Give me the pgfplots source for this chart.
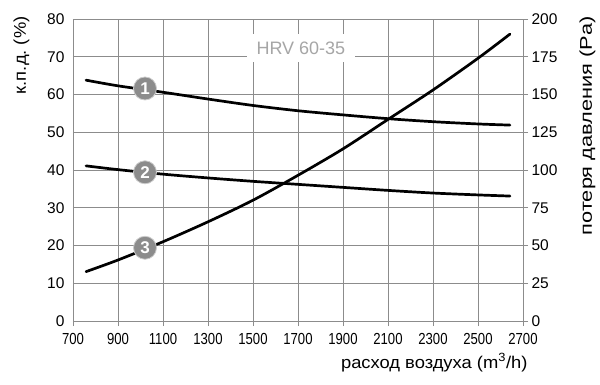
\documentclass[border=0pt]{standalone}
\usepackage{pgfplots}
\pgfplotsset{compat=1.18}
\usepackage{fontspec}
\setmainfont{Liberation Sans}
\newfontfamily\condfont[FakeStretch=0.82]{Liberation Sans}
\newfontfamily\widefont[FakeStretch=1.28]{Liberation Sans}
\newfontfamily\midfont[FakeStretch=1.08]{Liberation Sans}
\definecolor{gridc}{gray}{0.55}
\definecolor{badge}{gray}{0.55}
\definecolor{titlec}{gray}{0.65}
\begin{document}
\frenchspacing
\begin{tikzpicture}
\useasboundingbox (-73pt,-63pt) rectangle (527pt,321pt);
\pgfplotsset{
  common/.style={
    scale only axis, width=450pt, height=302pt,
    at={(0pt,0pt)}, anchor=south west,
    xmin=700, xmax=2700,
    /pgf/number format/assume math mode=true,
    /pgf/number format/1000 sep={},
    yticklabel style={font=\fontsize{15.5}{17}\selectfont},
    xticklabel style={font=\condfont\fontsize{16}{18}\selectfont, yshift=-4pt},
    axis line style={gridc, line width=0.8pt},
    tick align=outside, major tick length=5pt,
    tick style={gridc, line width=0.8pt},
  }
}
\begin{axis}[common,
  ymin=0, ymax=80, ytick={0,10,...,80},
  xtick={700,900,...,2700},
  xtick pos=left, ytick pos=left,
  ytick style={draw=none},
  grid=major, major grid style={gridc, line width=0.8pt},
  xlabel={расход воздуха (m\textsuperscript{3}/h)},
  xlabel style={font=\midfont\fontsize{17}{20}\selectfont, at={(axis description cs:1,0)}, anchor=north east, xshift=8pt, yshift=-29pt},
  ylabel={к.п.д. (\%)},
  ylabel style={font=\midfont\fontsize{17}{20}\selectfont, at={(axis description cs:-0.089,1.02)}, anchor=south east},
]
\node[fill=white, text=titlec, font=\fontsize{18}{20}\selectfont, minimum width=108pt, minimum height=28pt, inner sep=0pt] at (axis cs:1713,72.3) {HRV 60-35};
\addplot[black, line width=2.7pt, line cap=round, smooth] coordinates {
(758,63.8)(900,62.3)(1100,60.6)(1300,58.8)(1500,57.1)(1700,55.7)(1900,54.6)(2100,53.6)(2300,52.8)(2500,52.2)(2642,51.9)};
\addplot[black, line width=2.7pt, line cap=round, smooth] coordinates {
(758,41.1)(900,40.1)(1100,38.9)(1300,37.9)(1500,37.0)(1700,36.2)(1900,35.4)(2100,34.6)(2300,33.9)(2500,33.4)(2642,33.1)};
\addplot[only marks, mark=*, mark size=11.5pt, mark options={fill=badge, draw=gray!40, line width=0.8pt},
  nodes near coords, point meta=explicit symbolic, nodes near coords align={center},
  every node near coord/.append style={text=white, font=\bfseries\fontsize{17}{17}\selectfont, anchor=center}]
  coordinates {(1020,61.6)[1] (1020,39.4)[2]};
\end{axis}
\begin{axis}[common,
  ymin=0, ymax=200, ytick={0,25,...,200},
  axis y line*=right, axis x line=none,
  ylabel={потеря давления (Pa)},
  ylabel style={font=\widefont\fontsize{17}{20}\selectfont, at={(axis description cs:1.118,1.02)}, anchor=north east},
]
\addplot[black, line width=2.7pt, line cap=round, smooth] coordinates {
(758,32.7)(900,40.4)(1100,52.5)(1300,65.7)(1500,80)(1700,96.5)(1900,114)(2100,133.5)(2300,153)(2500,174)(2642,190)};
\addplot[only marks, mark=*, mark size=11.5pt, mark options={fill=badge, draw=gray!40, line width=0.8pt},
  nodes near coords, point meta=explicit symbolic, nodes near coords align={center},
  every node near coord/.append style={text=white, font=\bfseries\fontsize{17}{17}\selectfont, anchor=center}]
  coordinates {(1020,48.5)[3]};
\end{axis}
\end{tikzpicture}
\end{document}
